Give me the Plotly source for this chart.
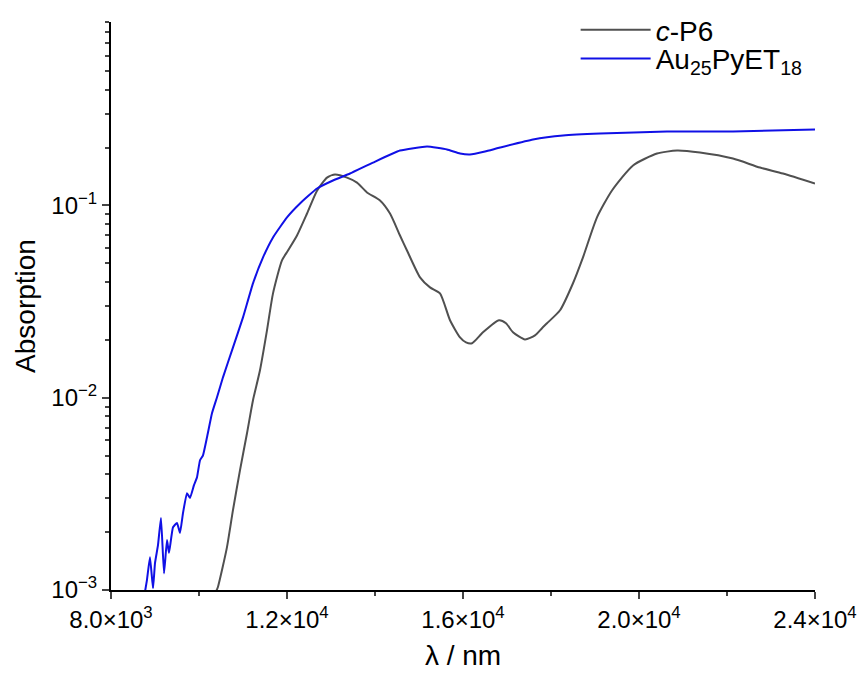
import plotly.graph_objects as go

# c-P6 spectrum (wavelength in nm, absorption)
cp6_x = [10386, 10432, 10523, 10636, 10773, 10932, 11091, 11227, 11386, 11545,
         11682, 11886, 12023, 12227, 12455, 12682, 12909, 13091, 13364, 13591,
         13818, 14114, 14341, 14568, 14727, 15023, 15250, 15477, 15705, 15932,
         16068, 16205, 16455, 16818, 16977, 17136, 17409, 17636, 17795, 17909,
         18205, 18500, 18727, 19045, 19386, 19864, 20409, 20864, 21386, 22136,
         22750, 23273, 24000]
cp6_y = [0.00098, 0.00104, 0.00127, 0.00167, 0.00261, 0.00420, 0.00654, 0.00971, 0.0139, 0.0224,
         0.0349, 0.0518, 0.0583, 0.0698, 0.0908, 0.1194, 0.1396, 0.1448, 0.1396, 0.1315,
         0.1169, 0.1062, 0.0908, 0.0698, 0.0583, 0.0423, 0.0375, 0.0349, 0.0253, 0.0206,
         0.0194, 0.0192, 0.0219, 0.0253, 0.0244, 0.0219, 0.0201, 0.0211, 0.0230, 0.0244,
         0.0285, 0.0394, 0.0537, 0.0867, 0.1196, 0.1615, 0.1862, 0.1930, 0.1884, 0.1753,
         0.1574, 0.1466, 0.1300]

# Au25PyET18 spectrum
au_x = [8773, 8818, 8886, 8955, 9000, 9068, 9136, 9205, 9273, 9318,
        9409, 9500, 9568, 9636, 9727, 9795, 9886, 9955, 10023, 10091,
        10182, 10295, 10409, 10545, 10773, 11000, 11227, 11455, 11682, 12000,
        12295, 12682, 13045, 13432, 13955, 14568, 15182, 15636, 15932, 16159,
        16500, 16841, 17591, 18273, 19114, 20636, 22136, 24000]
au_y = [0.00098, 0.00113, 0.00148, 0.00102, 0.00138, 0.00171, 0.00237, 0.00122, 0.00182, 0.00156,
        0.00212, 0.00223, 0.00198, 0.00251, 0.00319, 0.00301, 0.00351, 0.00386, 0.00473, 0.00502,
        0.00623, 0.00830, 0.01006, 0.01277, 0.01828, 0.02618, 0.03935, 0.0537, 0.0682, 0.0867,
        0.1024, 0.1225, 0.1349, 0.1466, 0.1671, 0.1930, 0.2024, 0.1954, 0.1862, 0.1840,
        0.1909, 0.2001, 0.2203, 0.2311, 0.2366, 0.2422, 0.2422, 0.2482]

x_tickvals = [8000, 12000, 16000, 20000, 24000]
x_ticktext = ["8.0×10<sup>3</sup>", "1.2×10<sup>4</sup>", "1.6×10<sup>4</sup>",
              "2.0×10<sup>4</sup>", "2.4×10<sup>4</sup>"]
y_tickvals = [0.001, 0.01, 0.1]
y_ticktext = ["10<sup>−3</sup>", "10<sup>−2</sup>", "10<sup>−1</sup>"]

FONT = "Liberation Sans, Arial, sans-serif"

fig = go.Figure()
fig.add_trace(go.Scatter(x=cp6_x, y=cp6_y, mode="lines", name="<i>c</i>-P6", legend="legend",
                         line=dict(color="#505050", width=2, shape="spline", smoothing=0.6)))
fig.add_trace(go.Scatter(x=au_x, y=au_y, mode="lines", name="Au<sub>25</sub>PyET<sub>18</sub>",
                         legend="legend2",
                         line=dict(color="#1010e6", width=2, shape="spline", smoothing=0.4)))

leg_common = dict(x=0.66, xanchor="left", yanchor="middle", yref="container",
                  font=dict(size=28, family=FONT), bgcolor="rgba(0,0,0,0)",
                  itemwidth=70, borderwidth=0)

fig.update_layout(
    width=863, height=684,
    margin=dict(l=111, r=48, t=22, b=94, autoexpand=False),
    plot_bgcolor="white", paper_bgcolor="white",
    font=dict(family=FONT, color="black", size=24),
    showlegend=True,
    legend=dict(y=0.956, **leg_common),
    legend2=dict(y=0.914, **leg_common),
    xaxis=dict(range=[8000, 24000], tickvals=x_tickvals, ticktext=x_ticktext,
               showline=True, linecolor="black", linewidth=2, mirror=False,
               ticks="outside", ticklen=7, tickwidth=2, showgrid=False, zeroline=False,
               tickfont=dict(size=24), automargin=False,
               minor=dict(ticks="outside", ticklen=4, tickwidth=2, dtick=2000, showgrid=False),
               title=dict(text="λ / nm", font=dict(size=28), standoff=14)),
    yaxis=dict(type="log", range=[-3, -0.0458], tickvals=y_tickvals, ticktext=y_ticktext,
               showline=True, linecolor="black", linewidth=2, mirror=False,
               ticks="outside", ticklen=7, tickwidth=2, showgrid=False, zeroline=False,
               tickfont=dict(size=24), automargin=False,
               minor=dict(ticks="outside", ticklen=4, tickwidth=2, dtick="D1", showgrid=False),
               title=dict(text="Absorption", font=dict(size=28), standoff=8)),
)

fig.write_html("out.html")
